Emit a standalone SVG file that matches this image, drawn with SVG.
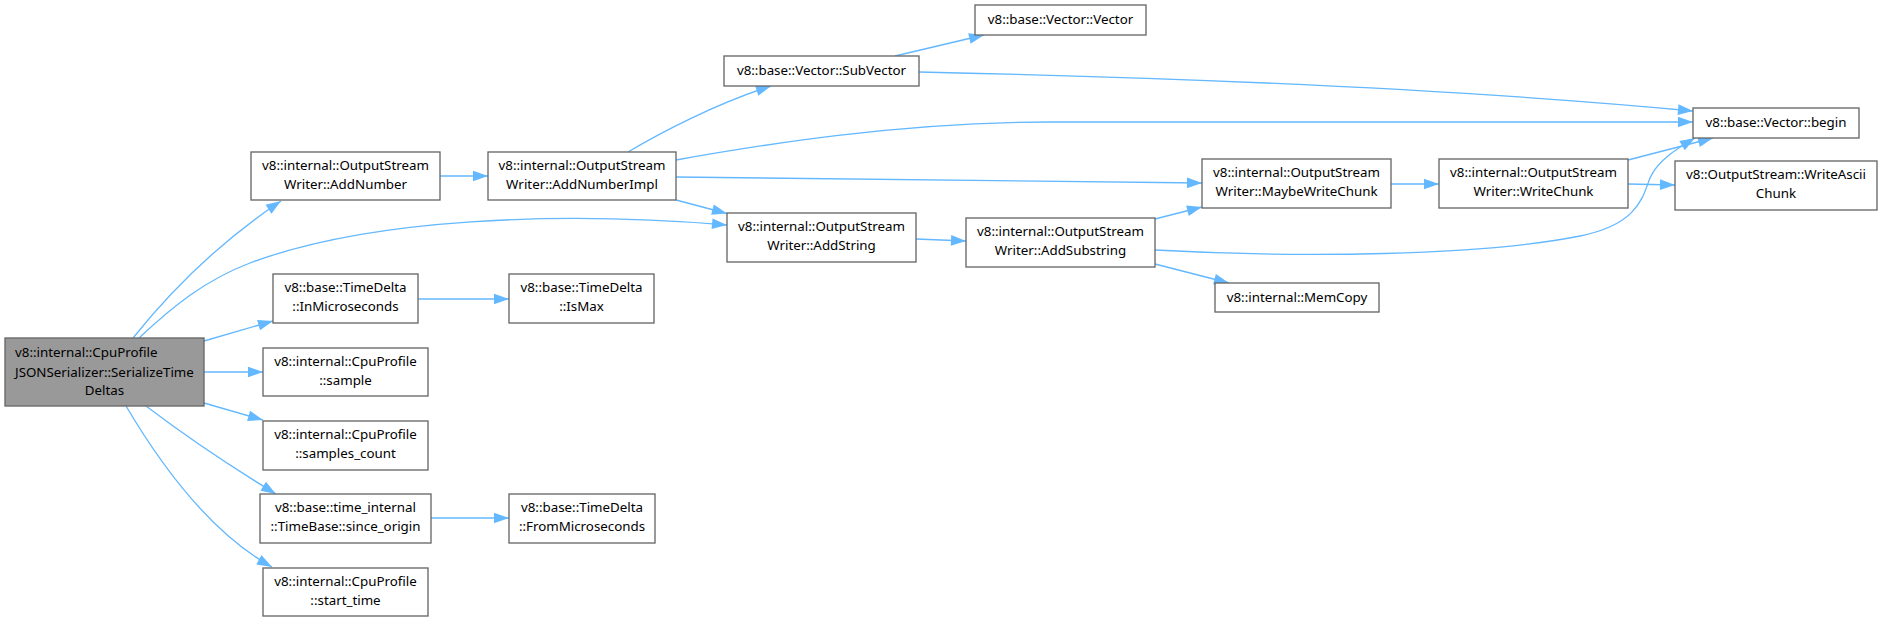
<svg xmlns="http://www.w3.org/2000/svg" width="1882" height="622" viewBox="0 0 1882 622">
<style>
.n rect{fill:#ffffff;stroke:#666666;stroke-width:1.33}
.n.main rect{fill:#999999}
.n text{font-family:"Noto Sans","Open Sans","DejaVu Sans",sans-serif;font-size:13.33px;fill:#000000;text-anchor:middle}
.n text.l{text-anchor:start}
#edges path{fill:none;stroke:#63b8ff;stroke-width:1.33;marker-end:url(#arr)}
</style>
<defs>
<marker id="arr" markerUnits="userSpaceOnUse" markerWidth="16" markerHeight="12" refX="15" refY="5.35" orient="auto" overflow="visible">
<path d="M0,0 L15,5.35 L0,10.7 z" fill="#63b8ff"/>
</marker>
</defs>
<rect width="1882" height="622" fill="#ffffff"/>
<g id="edges">
<path d="M133,338 C165,298 215,245 281,201"/>
<path d="M139,338 C172,307 205,280 250,263 C370,218 560,211 727,225"/>
<path d="M204,341 L273,321"/>
<path d="M204,372 L263,372"/>
<path d="M204,403 L263,420"/>
<path d="M146,406 C175,428 225,463 276,494"/>
<path d="M126,406 C155,455 205,530 272,567"/>
<path d="M440,176 L488,176"/>
<path d="M628,152 C660,133 715,104 771,86"/>
<path d="M676,160 C760,145 900,122 1050,122 L1693,122"/>
<path d="M676,177 L1202,183"/>
<path d="M676,200 L727,213.5"/>
<path d="M895,56 L984,35"/>
<path d="M919,72 C1150,77 1450,88 1693,111"/>
<path d="M916,239 L966,241"/>
<path d="M1155,219 L1202,207"/>
<path d="M1155,264 L1229,283"/>
<path d="M1155,250 C1300,258 1480,256 1580,236 C1640,224 1643,195 1650,178 C1658,160 1678,148 1695,138"/>
<path d="M1391,184 L1439,184"/>
<path d="M1628,160 L1713,138"/>
<path d="M1628,184 L1675,185"/>
<path d="M418,299 L509,299"/>
<path d="M431,518 L509,518"/>
</g>
<g id="node-main" class="n main">
<rect x="5" y="338" width="199" height="68"/>
<text class="l" x="15" y="357.3">v8::internal::CpuProfile</text>
<text class="l" x="15" y="376.7">JSONSerializer::SerializeTime</text>
<text x="104.5" y="395">Deltas</text>
</g>
<g id="node-addnumber" class="n">
<rect x="251" y="152" width="189" height="48"/>
<text x="345.5" y="170">v8::internal::OutputStream</text>
<text x="345.5" y="188.7">Writer::AddNumber</text>
</g>
<g id="node-addnumberimpl" class="n">
<rect x="488" y="152" width="188" height="48"/>
<text x="582" y="170">v8::internal::OutputStream</text>
<text x="582" y="188.7">Writer::AddNumberImpl</text>
</g>
<g id="node-inmicroseconds" class="n">
<rect x="273" y="274" width="145" height="49"/>
<text x="345.5" y="292.3">v8::base::TimeDelta</text>
<text x="345.5" y="311">::InMicroseconds</text>
</g>
<g id="node-ismax" class="n">
<rect x="509" y="274" width="145" height="49"/>
<text x="581.5" y="292.3">v8::base::TimeDelta</text>
<text x="581.5" y="311">::IsMax</text>
</g>
<g id="node-sample" class="n">
<rect x="263" y="348" width="165" height="48"/>
<text x="345.5" y="366">v8::internal::CpuProfile</text>
<text x="345.5" y="384.7">::sample</text>
</g>
<g id="node-samplescount" class="n">
<rect x="263" y="421" width="165" height="49"/>
<text x="345.5" y="439.3">v8::internal::CpuProfile</text>
<text x="345.5" y="458">::samples_count</text>
</g>
<g id="node-sinceorigin" class="n">
<rect x="260" y="494" width="171" height="49"/>
<text x="345.5" y="512.3">v8::base::time_internal</text>
<text x="345.5" y="531">::TimeBase::since_origin</text>
</g>
<g id="node-frommicroseconds" class="n">
<rect x="509" y="494" width="146" height="49"/>
<text x="582" y="512.3">v8::base::TimeDelta</text>
<text x="582" y="531">::FromMicroseconds</text>
</g>
<g id="node-starttime" class="n">
<rect x="263" y="568" width="165" height="48"/>
<text x="345.5" y="586">v8::internal::CpuProfile</text>
<text x="345.5" y="604.7">::start_time</text>
</g>
<g id="node-subvector" class="n">
<rect x="724" y="56" width="195" height="30"/>
<text x="821.5" y="74.7">v8::base::Vector::SubVector</text>
</g>
<g id="node-vector" class="n">
<rect x="975" y="5" width="171" height="30"/>
<text x="1060.5" y="23.7">v8::base::Vector::Vector</text>
</g>
<g id="node-addstring" class="n">
<rect x="727" y="213" width="189" height="49"/>
<text x="821.5" y="231.3">v8::internal::OutputStream</text>
<text x="821.5" y="250">Writer::AddString</text>
</g>
<g id="node-addsubstring" class="n">
<rect x="966" y="218" width="189" height="49"/>
<text x="1060.5" y="236.3">v8::internal::OutputStream</text>
<text x="1060.5" y="255">Writer::AddSubstring</text>
</g>
<g id="node-maybewritechunk" class="n">
<rect x="1202" y="159" width="189" height="49"/>
<text x="1296.5" y="177.3">v8::internal::OutputStream</text>
<text x="1296.5" y="196">Writer::MaybeWriteChunk</text>
</g>
<g id="node-memcopy" class="n">
<rect x="1215" y="283" width="164" height="29"/>
<text x="1297" y="301.5">v8::internal::MemCopy</text>
</g>
<g id="node-writechunk" class="n">
<rect x="1439" y="159" width="189" height="49"/>
<text x="1533.5" y="177.3">v8::internal::OutputStream</text>
<text x="1533.5" y="196">Writer::WriteChunk</text>
</g>
<g id="node-begin" class="n">
<rect x="1693" y="108" width="166" height="30"/>
<text x="1776" y="126.7">v8::base::Vector::begin</text>
</g>
<g id="node-writeasciichunk" class="n">
<rect x="1675" y="161" width="202" height="49"/>
<text x="1776" y="179.3">v8::OutputStream::WriteAscii</text>
<text x="1776" y="198">Chunk</text>
</g>
</svg>
